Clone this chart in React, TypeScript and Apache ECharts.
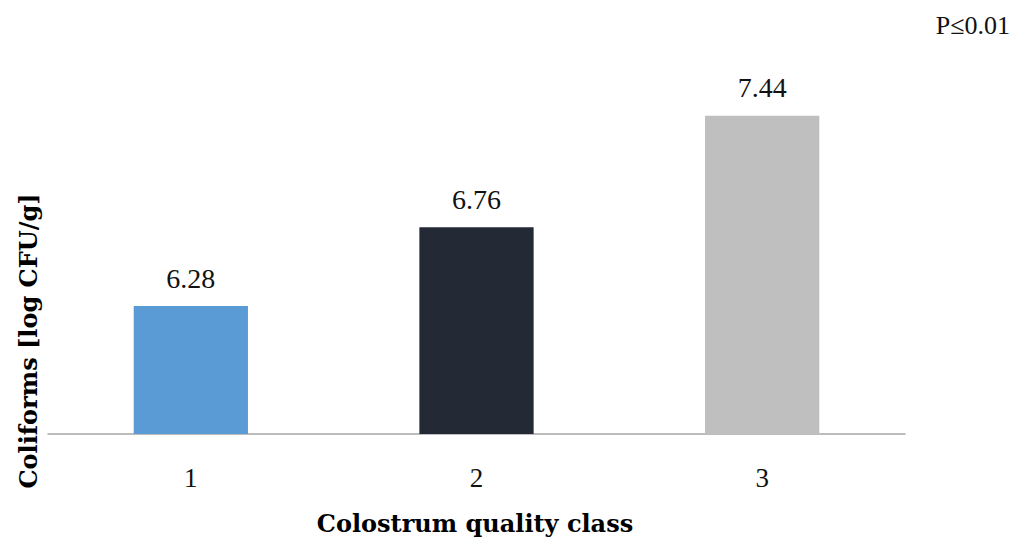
import React, { useEffect, useRef } from "react";
import * as echarts from "echarts";

const categories = ["1", "2", "3"];
const values = [6.28, 6.76, 7.44];
const barColors = ["#5b9bd5", "#232a35", "#bfbfbf"];
const yTitle = "Coliforms [log CFU/g]";
const xTitle = "Colostrum quality class";
const note = "P≤0.01";

export default function App() {
  const ref = useRef<HTMLDivElement>(null);
  useEffect(() => {
    const chart = echarts.init(ref.current!, null, { renderer: "svg" });
    chart.setOption({
      animation: false,
      backgroundColor: "#ffffff",
      grid: { left: 48, right: 109, top: 106, bottom: 109 },
      xAxis: {
        type: "category",
        data: categories,
        axisLine: { lineStyle: { color: "#a6a6a6", width: 1.5 } },
        axisTick: { show: false },
        axisLabel: {
          fontFamily: "Liberation Serif",
          fontSize: 27,
          color: "#111",
          margin: 30,
        },
      },
      yAxis: {
        type: "value",
        min: 5.5,
        max: 7.5,
        show: false,
        splitLine: { show: false },
      },
      series: [
        {
          type: "bar",
          barWidth: "40%",
          data: values.map((v, i) => ({ value: v, itemStyle: { color: barColors[i] } })),
          label: {
            show: true,
            position: "top",
            distance: 14,
            fontFamily: "Liberation Serif",
            fontSize: 28,
            color: "#111",
            formatter: (p: any) => p.value.toFixed(2),
          },
        },
      ],
      graphic: [
        {
          type: "text",
          x: 28,
          y: 341,
          rotation: Math.PI / 2,
          style: {
            text: yTitle,
            fontFamily: "DejaVu Serif",
            fontWeight: "bold",
            fontSize: 24,
            fill: "#000",
            textAlign: "center",
            textVerticalAlign: "middle",
          },
        },
        {
          type: "text",
          x: 475,
          y: 523,
          style: {
            text: xTitle,
            fontFamily: "DejaVu Serif",
            fontWeight: "bold",
            fontSize: 24,
            fill: "#000",
            textAlign: "center",
            textVerticalAlign: "middle",
          },
        },
        {
          type: "text",
          x: 1010,
          y: 25,
          style: {
            text: note,
            fontFamily: "Liberation Serif",
            fontSize: 26,
            fill: "#111",
            textAlign: "right",
            textVerticalAlign: "middle",
          },
        },
      ],
    });
    return () => chart.dispose();
  }, []);
  return (
    <div
      ref={ref}
      style={{ position: "fixed", left: 0, top: 0, width: 1014, height: 543 }}
    />
  );
}
